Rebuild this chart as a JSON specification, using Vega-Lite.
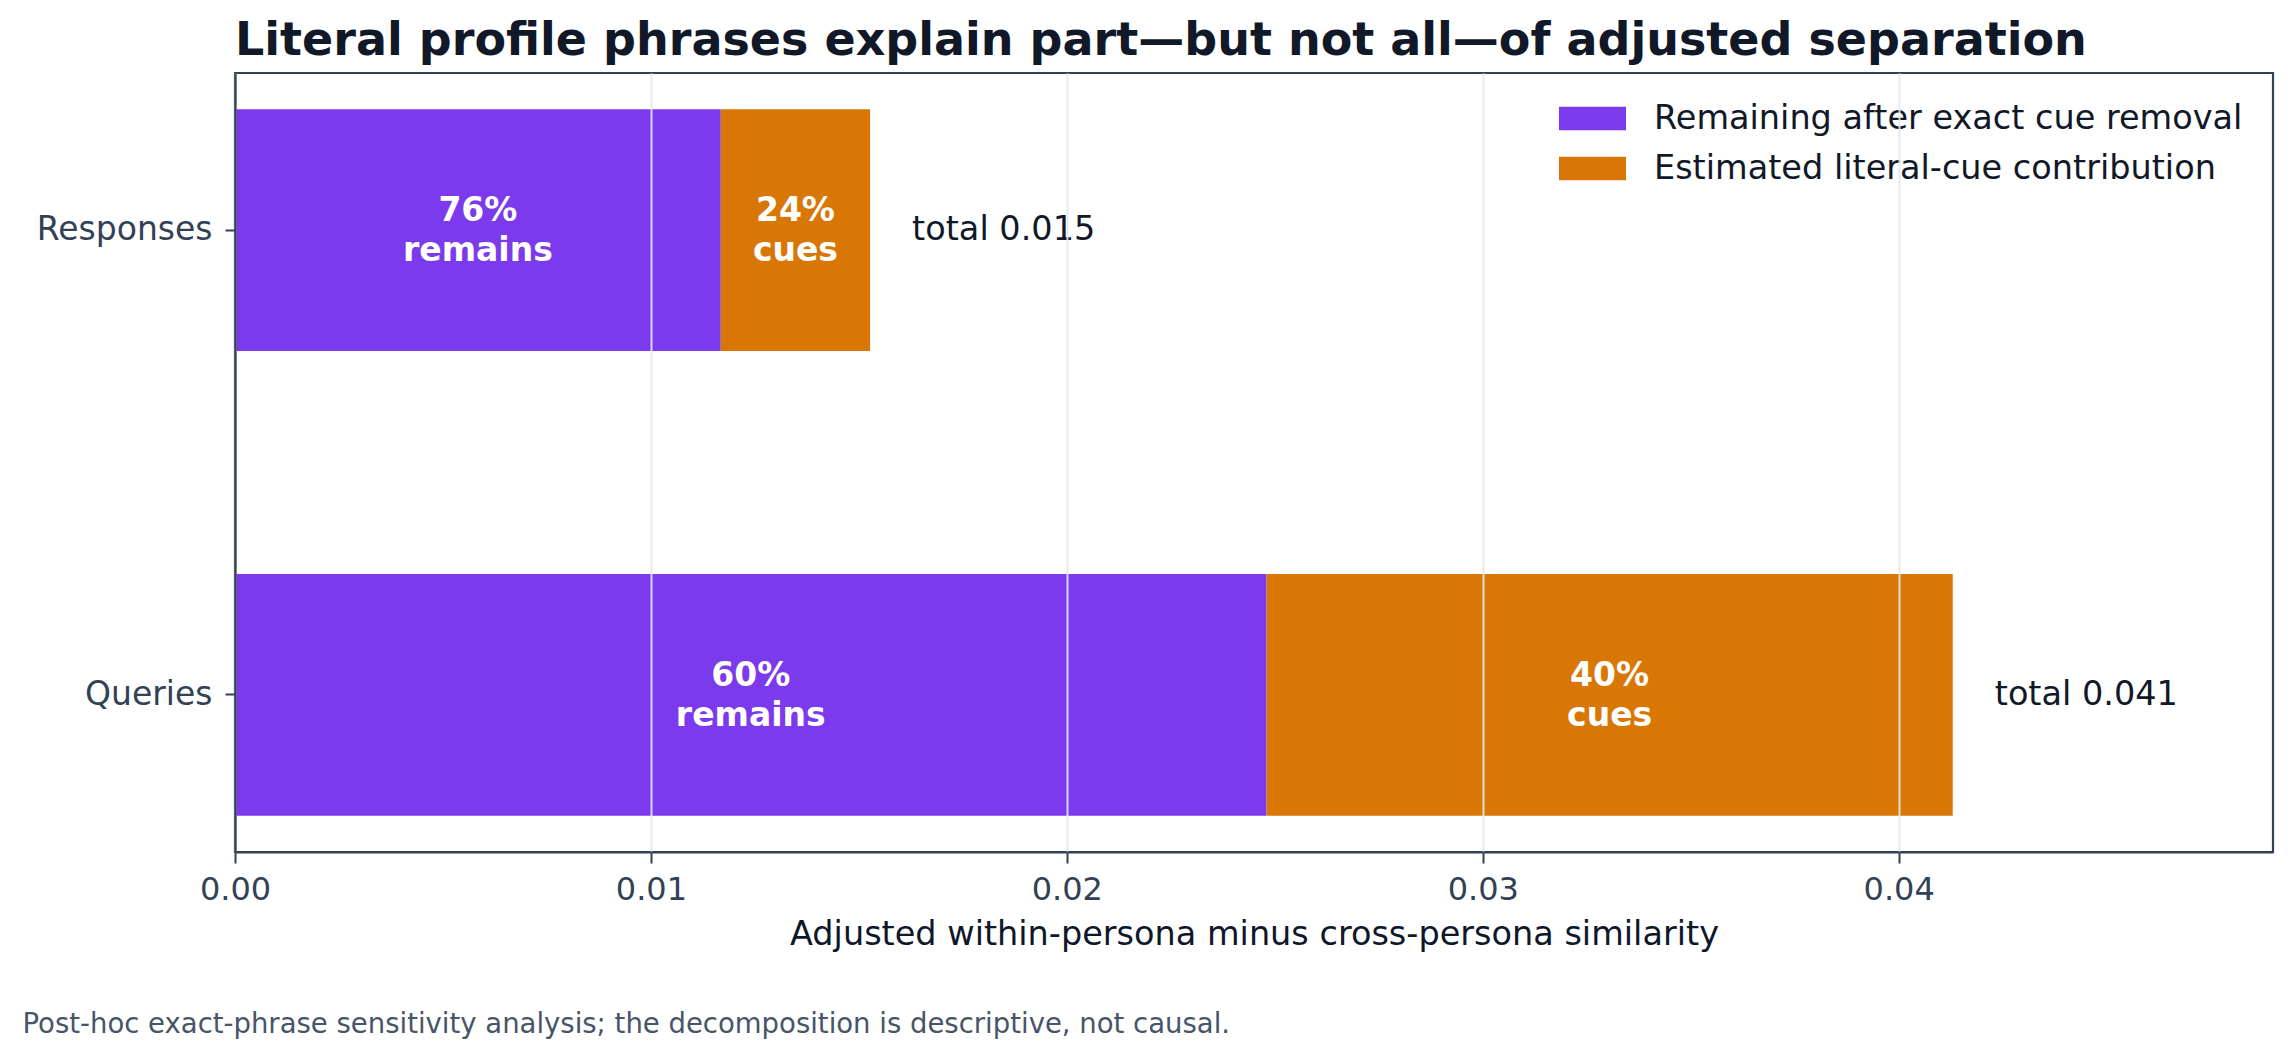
{
  "$schema": "https://vega.github.io/schema/vega-lite/v6.json",
  "width": 2038,
  "height": 779,
  "autosize": "none",
  "padding": {"left": 235, "top": 73, "right": 21, "bottom": 206},
  "background": "white",
  "config": {
    "font": "DejaVu Sans",
    "view": {"stroke": "#334155", "strokeWidth": 2.2}
  },
  "title": {
    "text": "Literal profile phrases explain part\u2014but not all\u2014of adjusted separation",
    "anchor": "start",
    "frame": "group",
    "fontSize": 46,
    "fontWeight": "bold",
    "color": "#111827",
    "baseline": "alphabetic",
    "offset": -28
  },
  "datasets": {
    "parts": [
      {"stream": "Responses", "part": "Remaining after exact cue removal", "seg": 1, "value": 0.01168, "label": ["76%", "remains"]},
      {"stream": "Responses", "part": "Estimated literal-cue contribution", "seg": 2, "value": 0.00359, "label": ["24%", "cues"]},
      {"stream": "Queries", "part": "Remaining after exact cue removal", "seg": 1, "value": 0.0248, "label": ["60%", "remains"]},
      {"stream": "Queries", "part": "Estimated literal-cue contribution", "seg": 2, "value": 0.0165, "label": ["40%", "cues"]}
    ],
    "totals": [
      {"stream": "Responses", "total": 0.01527, "label": "total 0.015"},
      {"stream": "Queries", "total": 0.0413, "label": "total 0.041"}
    ]
  },
  "resolve": {"axis": {"x": "independent"}},
  "layer": [
    {
      "data": {"name": "parts"},
      "mark": {"type": "bar", "cornerRadius": 0},
      "encoding": {
        "y": {
          "field": "stream",
          "type": "nominal",
          "sort": ["Responses", "Queries"],
          "scale": {"paddingInner": 0.48, "paddingOuter": 0.078},
          "axis": {
            "title": null,
            "labelFontSize": 33,
            "labelColor": "#334155",
            "labelPadding": 13,
            "tickSize": 10,
            "tickWidth": 2,
            "tickColor": "#334155",
            "domainColor": "#334155",
            "domainWidth": 2.2,
            "zindex": 1
          }
        },
        "x": {
          "field": "value",
          "type": "quantitative",
          "stack": "zero",
          "scale": {"domain": [0, 0.049], "nice": false, "zero": true},
          "axis": {
            "title": "Adjusted within-persona minus cross-persona similarity",
            "titleFontSize": 33.5,
            "titleFontWeight": "normal",
            "titleColor": "#0f172a",
            "titleBaseline": "alphabetic",
            "titleY": 92,
            "values": [0, 0.01, 0.02, 0.03, 0.04],
            "format": ".2f",
            "labelFontSize": 32,
            "labelColor": "#334155",
            "labelBaseline": "alphabetic",
            "labelPadding": 36,
            "labelFlush": false,
            "tickSize": 11,
            "tickWidth": 2,
            "tickColor": "#334155",
            "domainColor": "#334155",
            "domainWidth": 2.2,
            "grid": true,
            "gridColor": "#e2e8f0",
            "gridOpacity": 0.9,
            "gridWidth": 2,
            "zindex": 1
          }
        },
        "order": {"field": "seg", "type": "quantitative"},
        "color": {
          "field": "part",
          "type": "nominal",
          "scale": {
            "domain": ["Remaining after exact cue removal", "Estimated literal-cue contribution"],
            "range": ["#7c3aed", "#d97706"]
          },
          "legend": {
            "title": null,
            "orient": "none",
            "legendX": 1324,
            "legendY": 12,
            "padding": 0,
            "labelFontSize": 33.5,
            "labelColor": "#111827",
            "labelOffset": 28,
            "symbolType": "M-1,-0.35L1,-0.35L1,0.35L-1,0.35Z",
            "symbolSize": 4489,
            "symbolStrokeWidth": 0,
            "symbolOpacity": 1,
            "rowPadding": -17,
            "labelLimit": 0
          }
        }
      }
    },
    {
      "data": {"name": "parts"},
      "mark": {"type": "text", "color": "white", "fontSize": 33, "fontWeight": "bold", "lineHeight": 40, "baseline": "middle", "align": "center", "dy": -19},
      "encoding": {
        "y": {"field": "stream", "type": "nominal", "sort": ["Responses", "Queries"]},
        "x": {"field": "value", "type": "quantitative", "stack": "zero", "bandPosition": 0.5, "axis": null},
        "order": {"field": "seg", "type": "quantitative"},
        "detail": {"field": "part"},
        "text": {"field": "label"}
      }
    },
    {
      "data": {"name": "totals"},
      "mark": {"type": "text", "color": "#111827", "fontSize": 33.5, "align": "left", "baseline": "middle", "dx": 42},
      "encoding": {
        "y": {"field": "stream", "type": "nominal", "sort": ["Responses", "Queries"]},
        "x": {
          "field": "total",
          "type": "quantitative",
          "axis": {
            "orient": "bottom",
            "title": "Post-hoc exact-phrase sensitivity analysis; the decomposition is descriptive, not causal.",
            "titleX": -213,
            "titleY": 180,
            "titleAlign": "left",
            "titleAnchor": null,
            "titleBaseline": "alphabetic",
            "titleFontSize": 27.5,
            "titleFontWeight": "normal",
            "titleColor": "#475569",
            "labels": false,
            "ticks": false,
            "domain": false,
            "grid": false
          }
        },
        "text": {"field": "label"}
      }
    }
  ]
}
